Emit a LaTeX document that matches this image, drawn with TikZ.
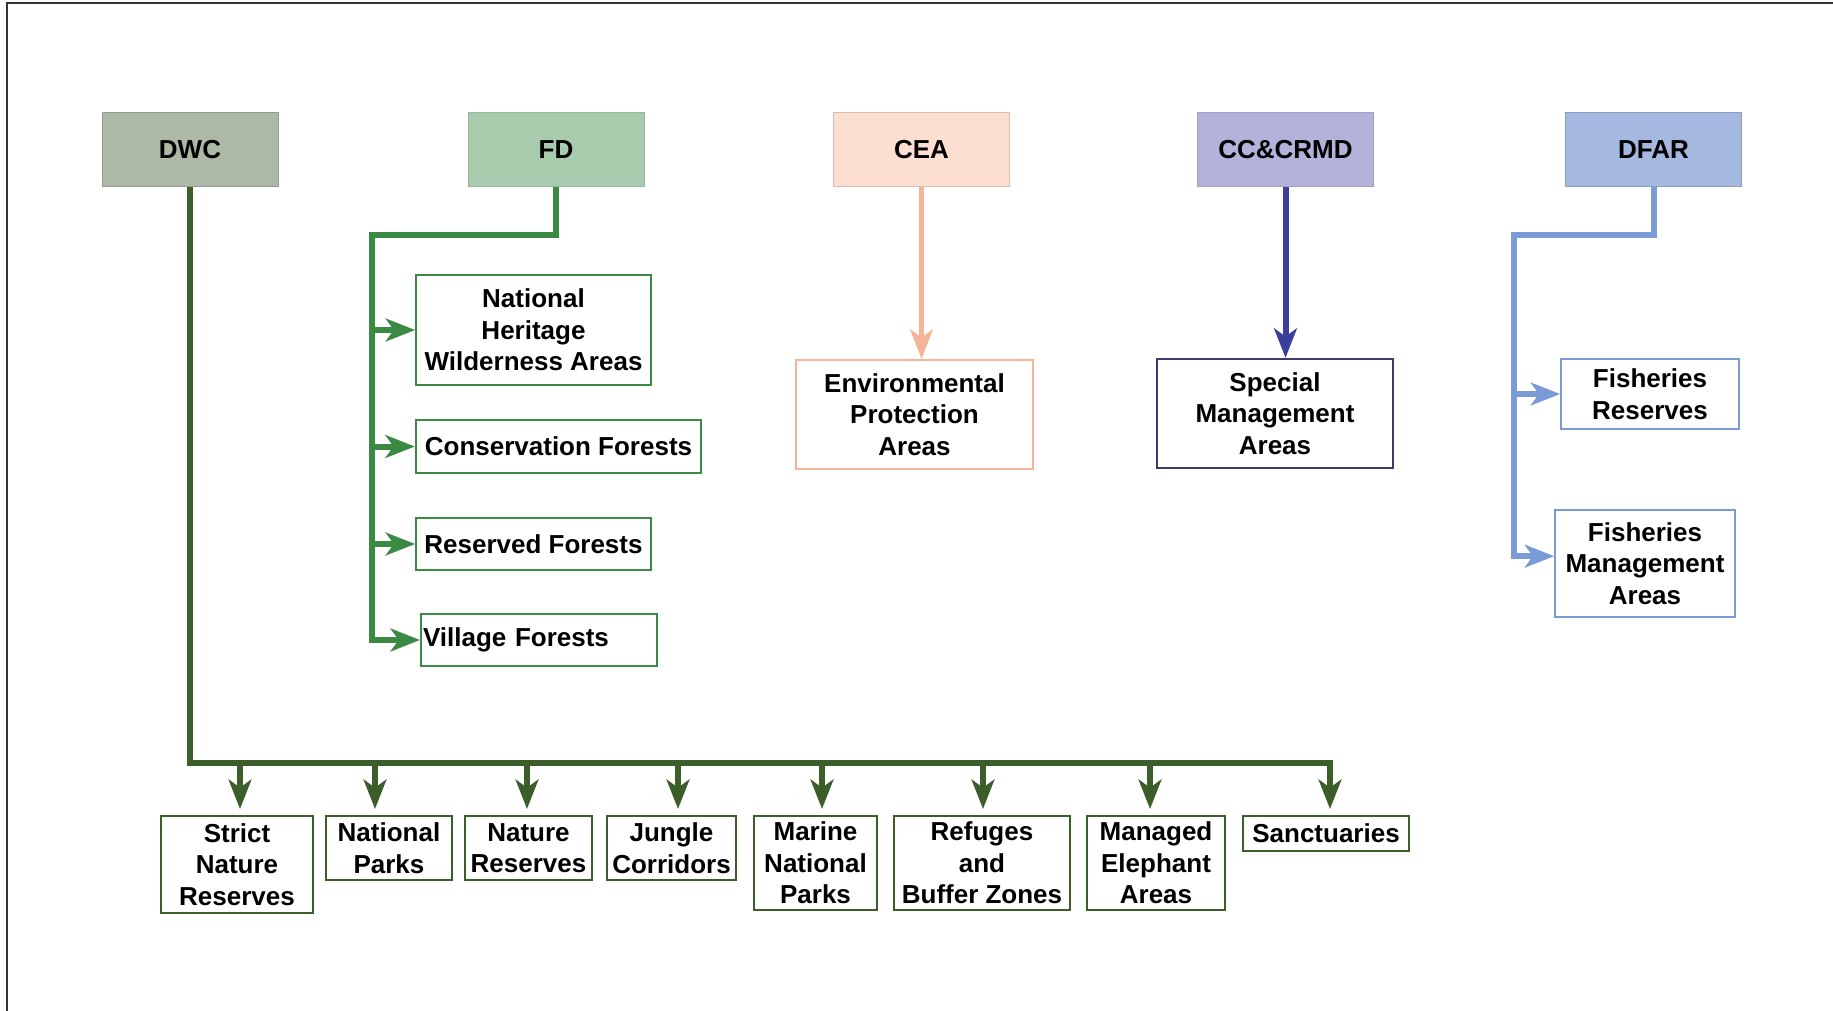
\documentclass[tikz,border=0pt]{standalone}
\usepackage{fontspec}
\setmainfont{Liberation Sans}
\usetikzlibrary{arrows.meta,calc}
\definecolor{dwcfill}{HTML}{ADB9A6}
\definecolor{dwcline}{HTML}{3B5E2B}
\definecolor{fdfill}{HTML}{A9CBAD}
\definecolor{fdline}{HTML}{3A8A44}
\definecolor{ceafill}{HTML}{FCDFD1}
\definecolor{cealine}{HTML}{F5B496}
\definecolor{ccfill}{HTML}{B2B2DA}
\definecolor{ccline}{HTML}{3C3F99}
\definecolor{ccbox}{HTML}{3D3D6B}
\definecolor{dffill}{HTML}{A5B9E0}
\definecolor{dfline}{HTML}{7B9BD6}
\tikzset{
  txt/.style={font=\fontsize{19.5}{23.6}\selectfont\bfseries, align=center, inner sep=0pt},
  head/.style={txt, minimum width=132pt, minimum height=55pt},
  child/.style={txt, draw, line width=1.5pt},
  conn/.style={line width=4.5pt, line join=miter, line cap=butt},
  tip/.style={-{Stealth[length=22pt,width=17pt,inset=6pt]}},
  drop/.style={conn, dwcline, line width=5pt, tip, shorten >=4.5pt},
}
\begin{document}
\begin{tikzpicture}[x=0.75pt,y=-0.75pt]
\useasboundingbox (0,0) rectangle (1833,1010);
\fill[white] (0,0) rectangle (1833,1010);
\draw[line width=1.2pt, black!80] (7,1012) -- (7,3) -- (1835,3);

% top boxes
\node[head, fill=dwcfill, draw=dwcfill!85!black, line width=0.6pt] (DWC) at (190,149.5) {DWC};
\node[head, fill=fdfill, draw=fdfill!90!black, line width=0.6pt] (FD) at (556,149.5) {FD};
\node[head, fill=ceafill, draw=ceafill!85!black, line width=0.6pt] (CEA) at (921.5,149.5) {CEA};
\node[head, fill=ccfill, draw=ccfill!90!black, line width=0.6pt] (CC) at (1285.5,149.5) {CC\&CRMD};
\node[head, fill=dffill, draw=dffill!85!black, line width=0.6pt] (DFAR) at (1653.5,149.5) {DFAR};

% FD children
\node[child, draw=fdline, minimum width=176pt, minimum height=82.5pt] (NHWA) at (533.5,330) {National\\Heritage\\Wilderness Areas};
\node[child, draw=fdline, minimum width=214pt, minimum height=40pt] (CF) at (558.5,446.5) {Conservation Forests};
\node[child, draw=fdline, minimum width=176pt, minimum height=39pt] (RF) at (533.5,544) {Reserved Forests};
\node[child, draw=fdline, minimum height=39pt, text width=174pt, inner xsep=1.5pt, align=left] (VF) at (539,640) {Village Forests};

% CEA / CC children
\node[child, draw=cealine, minimum width=178pt, minimum height=82pt] (EPA) at (914.5,414.5) {Environmental\\Protection\\Areas};
\node[child, draw=ccbox, minimum width=177pt, minimum height=82pt] (SMA) at (1275,413.5) {Special\\Management\\Areas};

% DFAR children
\node[child, draw=dfline, line width=1.2pt, minimum width=133.5pt, minimum height=52.5pt] (FR) at (1650,394) {Fisheries\\Reserves};
\node[child, draw=dfline, line width=1.2pt, minimum width=135pt, minimum height=80pt] (FMA) at (1645,563.5) {Fisheries\\Management\\Areas};

% DWC children
\node[child, draw=dwcline, anchor=north, minimum width=114pt, minimum height=73pt] (SNR) at (237,815) {Strict\\Nature\\Reserves};
\node[child, draw=dwcline, anchor=north, minimum width=94.5pt, minimum height=48pt] (NP) at (389,815) {National\\Parks};
\node[child, draw=dwcline, anchor=north, minimum width=95pt, minimum height=48pt] (NR) at (528.5,815) {Nature\\Reserves};
\node[child, draw=dwcline, anchor=north, minimum width=97pt, minimum height=48pt] (JC) at (671.5,815) {Jungle\\Corridors};
\node[child, draw=dwcline, anchor=north, minimum width=92pt, minimum height=70.5pt] (MNP) at (815.5,815) {Marine\\National\\Parks};
\node[child, draw=dwcline, anchor=north, minimum width=132pt, minimum height=70.5pt] (RBZ) at (982,815) {Refuges\\and\\Buffer Zones};
\node[child, draw=dwcline, anchor=north, minimum width=103.5pt, minimum height=70.5pt] (MEA) at (1156,815) {Managed\\Elephant\\Areas};
\node[child, draw=dwcline, anchor=north, minimum width=124.5pt, minimum height=26pt] (S) at (1326,815) {Sanctuaries};

% FD connectors
\coordinate (fdtop) at (372,235);
\draw[conn, fdline, tip] (FD.south) |- (fdtop) |- (VF.west);
\foreach \n in {NHWA,CF,RF}
  \draw[conn, fdline, tip] (fdtop |- \n.west) -- (\n.west);

% CEA and CC connectors
\draw[line width=3.75pt, cealine, tip] (CEA.south) -- (CEA.south |- EPA.north);
\draw[conn, ccline, tip] (CC.south) -- (CC.south |- SMA.north);

% DFAR connectors
\coordinate (dftop) at (1514,235);
\draw[conn, dfline, tip] (DFAR.south) |- (dftop) |- ([yshift=5.5pt]FMA.west);
\draw[conn, dfline, tip] (dftop |- FR.west) -- (FR.west);

% DWC connectors
\coordinate (a1) at (240,763);
\coordinate (a2) at (375,763);
\coordinate (a3) at (527,763);
\coordinate (a4) at (678,763);
\coordinate (a5) at (822,763);
\coordinate (a6) at (983,763);
\coordinate (a7) at (1150,763);
\coordinate (a8) at (1330,763);
\draw[drop] (DWC.south) |- (a8) -- (a8 |- S.north);
\draw[drop] (a1) -- (a1 |- SNR.north);
\draw[drop] (a2) -- (a2 |- NP.north);
\draw[drop] (a3) -- (a3 |- NR.north);
\draw[drop] (a4) -- (a4 |- JC.north);
\draw[drop] (a5) -- (a5 |- MNP.north);
\draw[drop] (a6) -- (a6 |- RBZ.north);
\draw[drop] (a7) -- (a7 |- MEA.north);
\end{tikzpicture}
\end{document}
